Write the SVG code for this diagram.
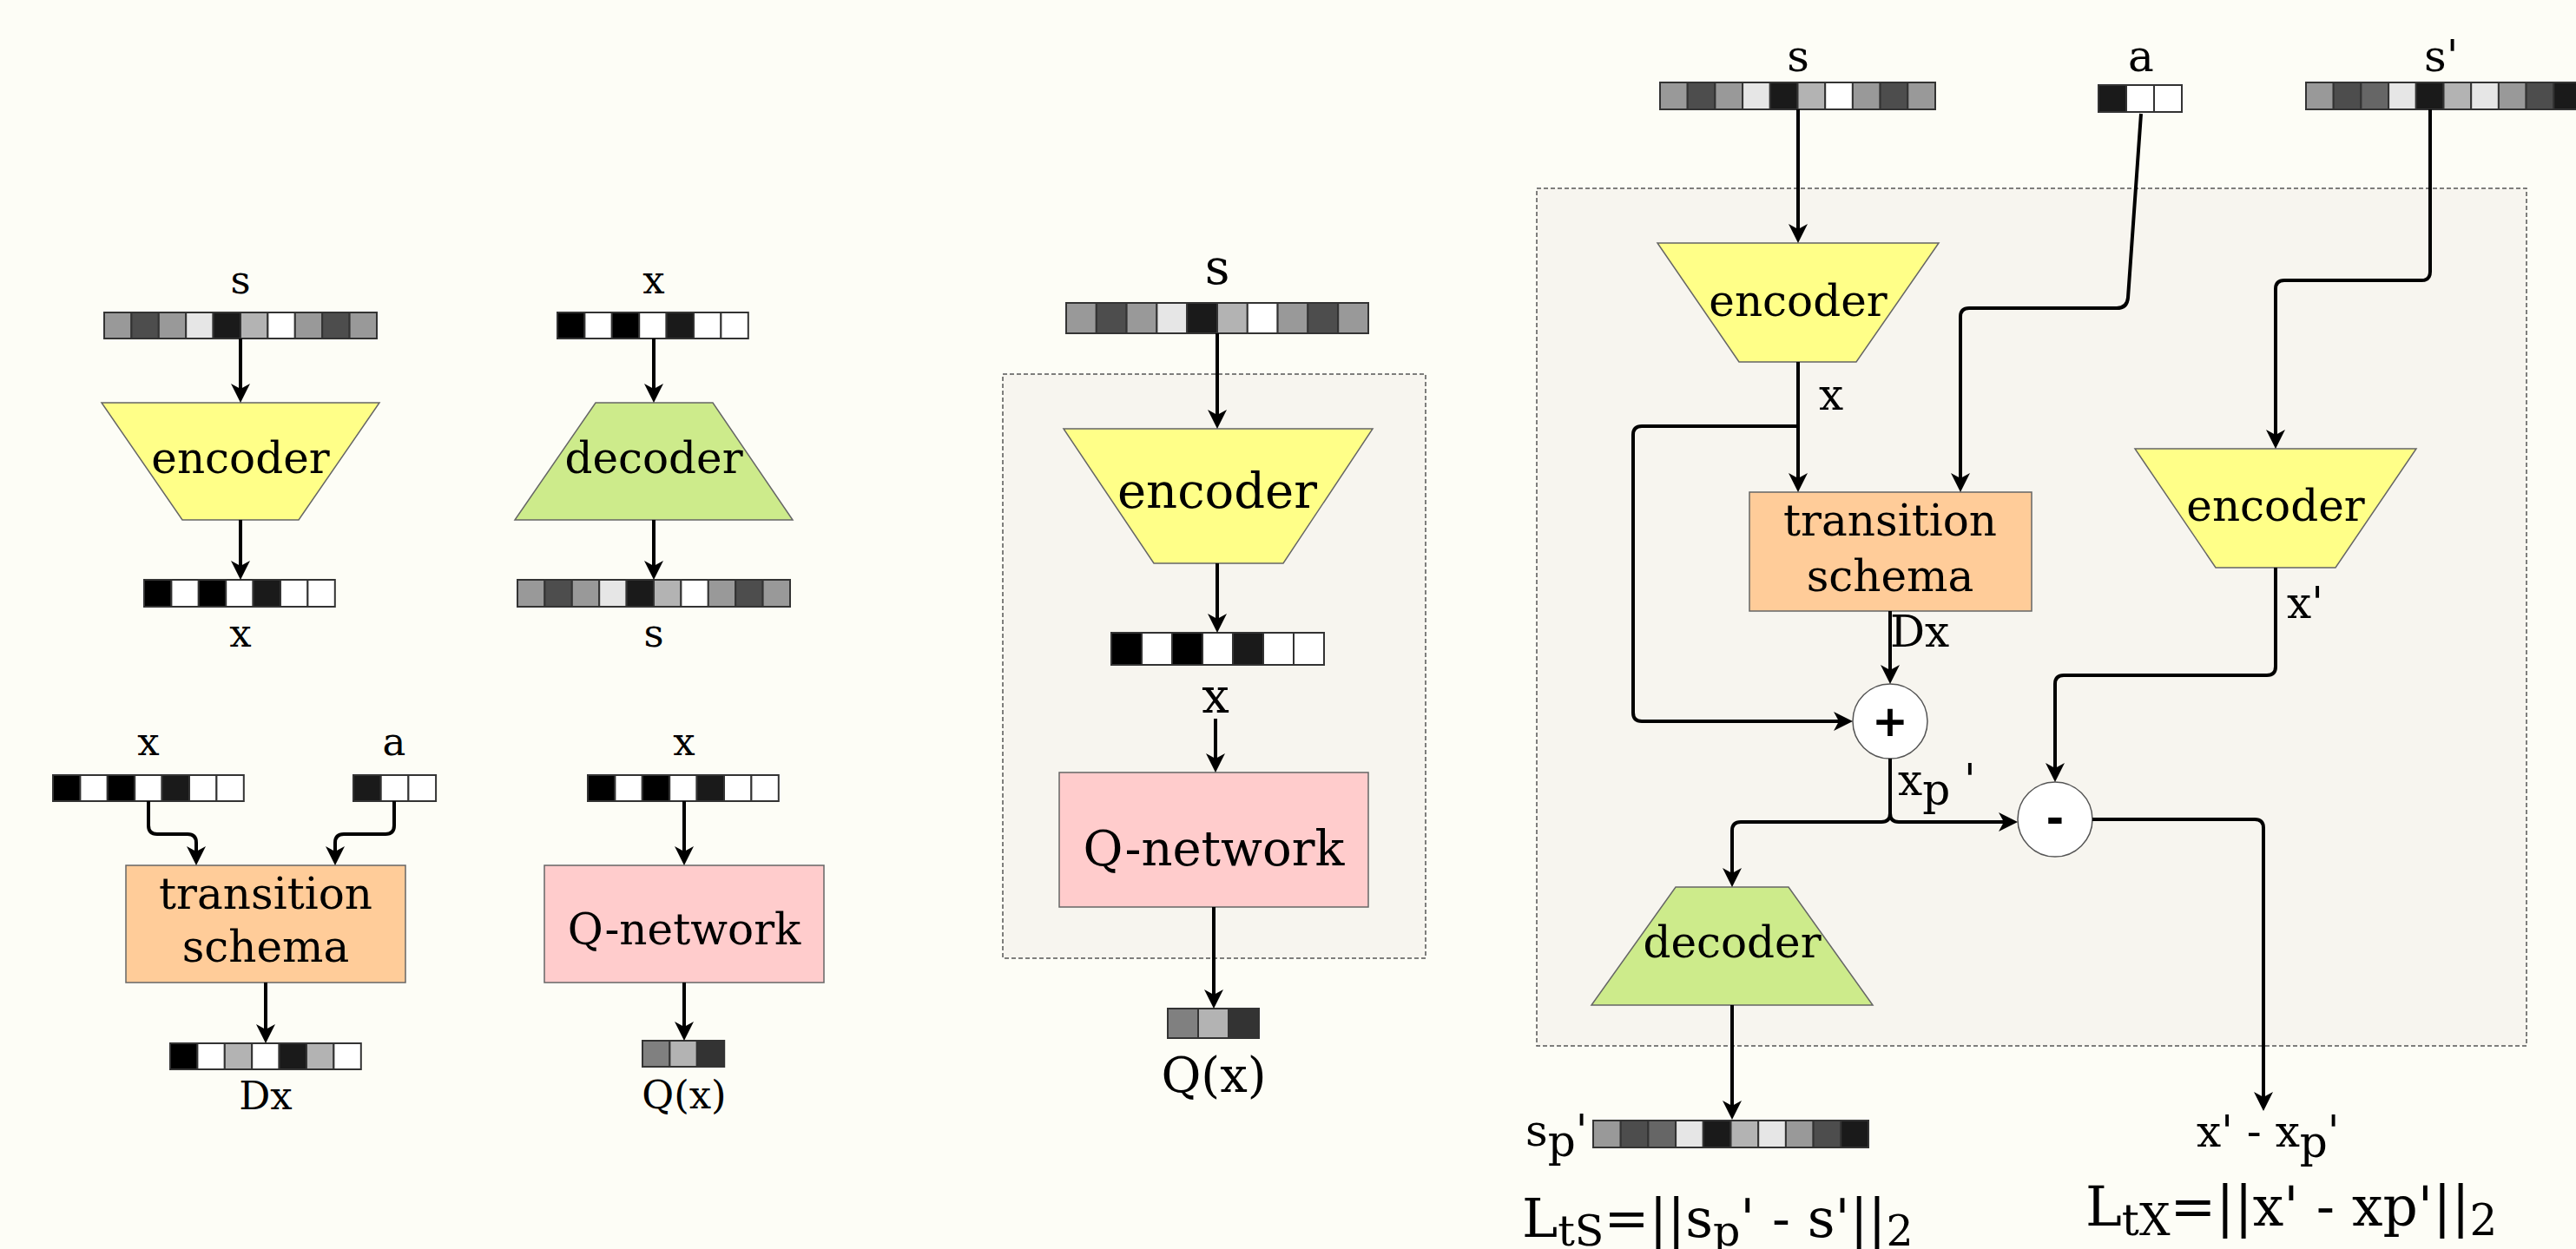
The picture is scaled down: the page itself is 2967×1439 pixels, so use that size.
<svg xmlns="http://www.w3.org/2000/svg" width="2967" height="1439" viewBox="0 0 2967 1439">
<defs>
<marker id="ah" viewBox="0 0 24 24" refX="8" refY="12" markerWidth="24" markerHeight="24" markerUnits="userSpaceOnUse" orient="auto"><path d="M0,1 L22,12 L0,23 L6,12 Z" fill="#000"/></marker>
<style>
text{font-family:"DejaVu Serif","Liberation Serif",serif;fill:#000}
.lbl{font-size:45px;text-anchor:middle}
.nl{font-size:50px;text-anchor:middle}
.ml{font-size:56px;text-anchor:middle}
.rl{font-size:50px}
.op{font-family:"DejaVu Sans","Liberation Sans",sans-serif;font-weight:bold;font-size:50px;text-anchor:middle}
.enc{fill:#ffff88;stroke:#666;stroke-width:1.5}
.dec{fill:#cdeb8b;stroke:#666;stroke-width:1.5}
.trs{fill:#ffcc99;stroke:#666;stroke-width:1.5}
.qn{fill:#ffcccc;stroke:#666;stroke-width:1.5}
.grp{fill:#f7f5ef;stroke:#555;stroke-width:1.5;stroke-dasharray:5 3}
.circ{fill:#fff;stroke:#555;stroke-width:1.5}
.vec rect{stroke:#333;stroke-width:2}
.c0{fill:#000}.c1{fill:#1a1a1a}.c3{fill:#333}.c4{fill:#4d4d4d}.c6{fill:#666}.c8{fill:#808080}.c9{fill:#999}.cb{fill:#b3b3b3}.ce{fill:#e6e6e6}.cf{fill:#fff}
.con path{fill:none;stroke:#000;stroke-width:4;marker-end:url(#ah)}
</style>
</defs>
<rect width="2967" height="1439" fill="#fdfdf6"/>

<!-- group boxes -->
<rect id="group-middle" class="grp" x="1155" y="431" width="487" height="673"/>
<rect id="group-right" class="grp" x="1770" y="217" width="1140" height="988"/>

<!-- ===== Left: encoder ===== -->
<g id="l-enc-in">
<text class="lbl" x="277" y="338">s</text>
<g class="vec"><rect class="c9" x="120" y="360" width="31.4" height="30"/><rect class="c4" x="151.4" y="360" width="31.4" height="30"/><rect class="c9" x="182.8" y="360" width="31.4" height="30"/><rect class="ce" x="214.2" y="360" width="31.4" height="30"/><rect class="c1" x="245.6" y="360" width="31.4" height="30"/><rect class="cb" x="277" y="360" width="31.4" height="30"/><rect class="cf" x="308.4" y="360" width="31.4" height="30"/><rect class="c9" x="339.8" y="360" width="31.4" height="30"/><rect class="c4" x="371.2" y="360" width="31.4" height="30"/><rect class="c9" x="402.6" y="360" width="31.4" height="30"/></g>
</g>
<g id="l-encoder"><polygon class="enc" points="117,464 437,464 344,599 210,599"/><text class="nl" x="277" y="545">encoder</text></g>
<g id="l-enc-out">
<g class="vec"><rect class="c0" x="166" y="668" width="31.4" height="31"/><rect class="cf" x="197.4" y="668" width="31.4" height="31"/><rect class="c0" x="228.8" y="668" width="31.4" height="31"/><rect class="cf" x="260.2" y="668" width="31.4" height="31"/><rect class="c1" x="291.6" y="668" width="31.4" height="31"/><rect class="cf" x="323" y="668" width="31.4" height="31"/><rect class="cf" x="354.4" y="668" width="31.4" height="31"/></g>
<text class="lbl" x="277" y="745">x</text>
</g>

<!-- ===== Left: decoder ===== -->
<g id="l-dec-in">
<text class="lbl" x="753" y="338">x</text>
<g class="vec"><rect class="c0" x="642" y="360" width="31.4" height="30"/><rect class="cf" x="673.4" y="360" width="31.4" height="30"/><rect class="c0" x="704.8" y="360" width="31.4" height="30"/><rect class="cf" x="736.2" y="360" width="31.4" height="30"/><rect class="c1" x="767.6" y="360" width="31.4" height="30"/><rect class="cf" x="799" y="360" width="31.4" height="30"/><rect class="cf" x="830.4" y="360" width="31.4" height="30"/></g>
</g>
<g id="l-decoder"><polygon class="dec" points="686,464 821,464 913,599 593,599"/><text class="nl" x="753" y="545">decoder</text></g>
<g id="l-dec-out">
<g class="vec"><rect class="c9" x="596" y="668" width="31.4" height="31"/><rect class="c4" x="627.4" y="668" width="31.4" height="31"/><rect class="c9" x="658.8" y="668" width="31.4" height="31"/><rect class="ce" x="690.2" y="668" width="31.4" height="31"/><rect class="c1" x="721.6" y="668" width="31.4" height="31"/><rect class="cb" x="753" y="668" width="31.4" height="31"/><rect class="cf" x="784.4" y="668" width="31.4" height="31"/><rect class="c9" x="815.8" y="668" width="31.4" height="31"/><rect class="c4" x="847.2" y="668" width="31.4" height="31"/><rect class="c9" x="878.6" y="668" width="31.4" height="31"/></g>
<text class="lbl" x="753" y="745">s</text>
</g>

<!-- ===== Left: transition ===== -->
<g id="l-tr-x">
<text class="lbl" x="171" y="870">x</text>
<g class="vec"><rect class="c0" x="61" y="893" width="31.4" height="30"/><rect class="cf" x="92.4" y="893" width="31.4" height="30"/><rect class="c0" x="123.8" y="893" width="31.4" height="30"/><rect class="cf" x="155.2" y="893" width="31.4" height="30"/><rect class="c1" x="186.6" y="893" width="31.4" height="30"/><rect class="cf" x="218" y="893" width="31.4" height="30"/><rect class="cf" x="249.4" y="893" width="31.4" height="30"/></g>
</g>
<g id="l-tr-a">
<text class="lbl" x="454" y="870">a</text>
<g class="vec"><rect class="c1" x="407" y="893" width="31.7" height="30"/><rect class="cf" x="438.7" y="893" width="31.7" height="30"/><rect class="cf" x="470.4" y="893" width="31.7" height="30"/></g>
</g>
<g id="l-transition"><rect class="trs" x="145" y="997" width="322" height="135"/><text class="nl" x="306" y="1047">transition</text><text class="nl" x="306" y="1108">schema</text></g>
<g id="l-tr-out">
<g class="vec"><rect class="c0" x="196" y="1202" width="31.4" height="30"/><rect class="cf" x="227.4" y="1202" width="31.4" height="30"/><rect class="cb" x="258.8" y="1202" width="31.4" height="30"/><rect class="cf" x="290.2" y="1202" width="31.4" height="30"/><rect class="c1" x="321.6" y="1202" width="31.4" height="30"/><rect class="cb" x="353" y="1202" width="31.4" height="30"/><rect class="cf" x="384.4" y="1202" width="31.4" height="30"/></g>
<text class="lbl" x="306" y="1278">Dx</text>
</g>

<!-- ===== Left: Q-network ===== -->
<g id="l-q-in">
<text class="lbl" x="788" y="870">x</text>
<g class="vec"><rect class="c0" x="677" y="893" width="31.4" height="30"/><rect class="cf" x="708.4" y="893" width="31.4" height="30"/><rect class="c0" x="739.8" y="893" width="31.4" height="30"/><rect class="cf" x="771.2" y="893" width="31.4" height="30"/><rect class="c1" x="802.6" y="893" width="31.4" height="30"/><rect class="cf" x="834" y="893" width="31.4" height="30"/><rect class="cf" x="865.4" y="893" width="31.4" height="30"/></g>
</g>
<g id="l-qnet"><rect class="qn" x="627" y="997" width="322" height="135"/><text class="nl" x="788" y="1088">Q-network</text></g>
<g id="l-q-out">
<g class="vec"><rect class="c8" x="740" y="1199" width="31.4" height="30"/><rect class="cb" x="771.4" y="1199" width="31.4" height="30"/><rect class="c3" x="802.8" y="1199" width="31.4" height="30"/></g>
<text class="lbl" x="788" y="1277">Q(x)</text>
</g>

<!-- ===== Middle ===== -->
<g id="m-s">
<text class="ml" x="1402" y="327">s</text>
<g class="vec"><rect class="c9" x="1228" y="349" width="34.8" height="35"/><rect class="c4" x="1262.8" y="349" width="34.8" height="35"/><rect class="c9" x="1297.6" y="349" width="34.8" height="35"/><rect class="ce" x="1332.4" y="349" width="34.8" height="35"/><rect class="c1" x="1367.2" y="349" width="34.8" height="35"/><rect class="cb" x="1402" y="349" width="34.8" height="35"/><rect class="cf" x="1436.8" y="349" width="34.8" height="35"/><rect class="c9" x="1471.6" y="349" width="34.8" height="35"/><rect class="c4" x="1506.4" y="349" width="34.8" height="35"/><rect class="c9" x="1541.2" y="349" width="34.8" height="35"/></g>
</g>
<g id="m-encoder"><polygon class="enc" points="1225,494 1581,494 1478,649 1329,649"/><text class="ml" x="1402" y="585">encoder</text></g>
<g id="m-x">
<g class="vec"><rect class="c0" x="1280" y="729" width="35" height="37"/><rect class="cf" x="1315" y="729" width="35" height="37"/><rect class="c0" x="1350" y="729" width="35" height="37"/><rect class="cf" x="1385" y="729" width="35" height="37"/><rect class="c1" x="1420" y="729" width="35" height="37"/><rect class="cf" x="1455" y="729" width="35" height="37"/><rect class="cf" x="1490" y="729" width="35" height="37"/></g>
<text class="ml" x="1400" y="821">x</text>
</g>
<g id="m-qnet"><rect class="qn" x="1220" y="890" width="356" height="155"/><text class="ml" x="1398" y="997">Q-network</text></g>
<g id="m-q">
<g class="vec"><rect class="c8" x="1345" y="1162" width="35" height="34"/><rect class="cb" x="1380" y="1162" width="35" height="34"/><rect class="c3" x="1415" y="1162" width="35" height="34"/></g>
<text class="ml" x="1398" y="1258">Q(x)</text>
</g>

<!-- ===== Right ===== -->
<g id="r-s">
<text class="rl" x="2071" y="82" text-anchor="middle">s</text>
<g class="vec"><rect class="c9" x="1912" y="95" width="31.7" height="31"/><rect class="c4" x="1943.7" y="95" width="31.7" height="31"/><rect class="c9" x="1975.4" y="95" width="31.7" height="31"/><rect class="ce" x="2007.1" y="95" width="31.7" height="31"/><rect class="c1" x="2038.8" y="95" width="31.7" height="31"/><rect class="cb" x="2070.5" y="95" width="31.7" height="31"/><rect class="cf" x="2102.2" y="95" width="31.7" height="31"/><rect class="c9" x="2133.9" y="95" width="31.7" height="31"/><rect class="c4" x="2165.6" y="95" width="31.7" height="31"/><rect class="c9" x="2197.3" y="95" width="31.7" height="31"/></g>
</g>
<g id="r-a">
<text class="rl" x="2466" y="82" text-anchor="middle">a</text>
<g class="vec"><rect class="c1" x="2417" y="98" width="32" height="31"/><rect class="cf" x="2449" y="98" width="32" height="31"/><rect class="cf" x="2481" y="98" width="32" height="31"/></g>
</g>
<g id="r-s2">
<text class="rl" x="2792" y="82">s'</text>
<g class="vec"><rect class="c9" x="2656" y="95" width="31.7" height="31"/><rect class="c4" x="2687.7" y="95" width="31.7" height="31"/><rect class="c6" x="2719.4" y="95" width="31.7" height="31"/><rect class="ce" x="2751.1" y="95" width="31.7" height="31"/><rect class="c1" x="2782.8" y="95" width="31.7" height="31"/><rect class="cb" x="2814.5" y="95" width="31.7" height="31"/><rect class="ce" x="2846.2" y="95" width="31.7" height="31"/><rect class="c9" x="2877.9" y="95" width="31.7" height="31"/><rect class="c4" x="2909.6" y="95" width="31.7" height="31"/><rect class="c1" x="2941.3" y="95" width="31.7" height="31"/></g>
</g>
<g id="r-encoder1"><polygon class="enc" points="1909,280 2233,280 2138,417 2003,417"/><text class="nl" x="2071" y="364">encoder</text></g>
<g id="r-encoder2"><polygon class="enc" points="2459,517 2783,517 2690,654 2552,654"/><text class="nl" x="2621" y="600">encoder</text></g>
<g id="r-transition"><rect class="trs" x="2015" y="567" width="325" height="137"/><text class="nl" x="2177" y="617">transition</text><text class="nl" x="2177" y="681">schema</text></g>
<g id="r-plus"><circle class="circ" cx="2177" cy="831" r="43"/><text class="op" x="2177" y="848">+</text></g>
<g id="r-minus"><circle class="circ" cx="2367" cy="944" r="43"/><text class="op" x="2367" y="960">-</text></g>
<g id="r-decoder"><polygon class="dec" points="1930,1022 2060,1022 2157,1158 1833,1158"/><text class="nl" x="1995" y="1103">decoder</text></g>
<g id="r-sp">
<text class="rl" x="1757" y="1320">s<tspan dy="12">p</tspan><tspan dy="-12">'</tspan></text>
<g class="vec"><rect class="c9" x="1835" y="1291" width="31.7" height="31"/><rect class="c4" x="1866.7" y="1291" width="31.7" height="31"/><rect class="c6" x="1898.4" y="1291" width="31.7" height="31"/><rect class="ce" x="1930.1" y="1291" width="31.7" height="31"/><rect class="c1" x="1961.8" y="1291" width="31.7" height="31"/><rect class="cb" x="1993.5" y="1291" width="31.7" height="31"/><rect class="ce" x="2025.2" y="1291" width="31.7" height="31"/><rect class="c9" x="2056.9" y="1291" width="31.7" height="31"/><rect class="c4" x="2088.6" y="1291" width="31.7" height="31"/><rect class="c1" x="2120.3" y="1291" width="31.7" height="31"/></g>
</g>
<g id="r-diff"><text class="rl" x="2530" y="1321">x' - x<tspan dy="12">p</tspan><tspan dy="-12">'</tspan></text></g>
<g id="r-loss-s"><text x="1753" y="1425" font-size="62">L<tspan dy="10" font-size="49">tS</tspan><tspan dy="-10">=||s</tspan><tspan dy="10" font-size="49">p</tspan><tspan dy="-10">' - s'||</tspan><tspan dy="10" font-size="49">2</tspan></text></g>
<g id="r-loss-x"><text x="2402" y="1412" font-size="63">L<tspan dy="11" font-size="50">tX</tspan><tspan dy="-11">=||x' - xp'||</tspan><tspan dy="11" font-size="50">2</tspan></text></g>

<!-- edge labels -->
<g id="edge-labels">
<text class="rl" x="2095" y="472">x</text>
<text class="rl" x="2177" y="745">Dx</text>
<text class="rl" x="2634" y="712">x'</text>
<text class="rl" x="2186" y="916">x<tspan dy="11">p</tspan><tspan dy="-11"> '</tspan></text>
</g>

<!-- connectors -->
<g id="connectors" class="con">
<path d="M277,390 V450"/>
<path d="M277,599 V654"/>
<path d="M753,390 V450"/>
<path d="M753,599 V654"/>
<path d="M171,923 V951 Q171,961 181,961 H216 Q226,961 226,971 V983"/>
<path d="M454,923 V951 Q454,961 444,961 H396 Q386,961 386,971 V983"/>
<path d="M306,1132 V1188"/>
<path d="M788,923 V983"/>
<path d="M788,1132 V1185"/>
<path d="M1402,384 V480"/>
<path d="M1402,649 V715"/>
<path d="M1400,828 V876"/>
<path d="M1398,1045 V1148"/>
<path d="M2071,126 V266"/>
<path d="M2071,417 V553"/>
<path d="M2071,491 H1891 Q1881,491 1881,501 V821 Q1881,831 1891,831 H2120"/>
<path d="M2466,131 L2451,343 Q2450,355 2438,355 H2268 Q2258,355 2258,365 V553"/>
<path d="M2799,126 V313 Q2799,323 2789,323 H2631 Q2621,323 2621,333 V503"/>
<path d="M2621,654 V768 Q2621,778 2611,778 H2377 Q2367,778 2367,788 V887"/>
<path d="M2177,704 V774"/>
<path d="M2177,874 V937 Q2177,947 2167,947 H2005 Q1995,947 1995,957 V1008"/>
<path d="M2177,937 Q2177,947 2187,947 H2310"/>
<path d="M2410,944 H2597 Q2607,944 2607,954 V1266"/>
<path d="M1995,1158 V1276"/>
</g>
</svg>
